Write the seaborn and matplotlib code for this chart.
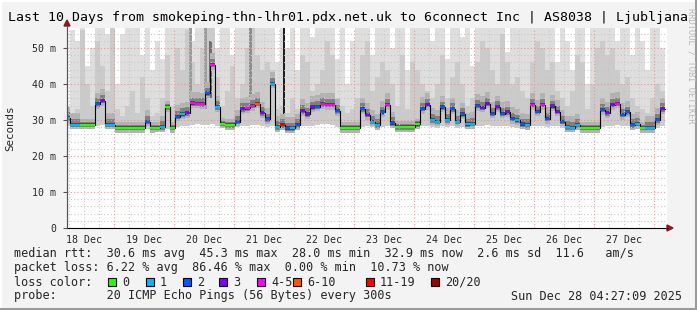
import matplotlib
matplotlib.use("Agg")
import matplotlib.pyplot as plt
import seaborn as sns
import numpy as np
import pandas as pd
from matplotlib.patches import Rectangle, Polygon

# ---------------- data ----------------
bin_start_hour = 4.4          # hours after 18 Dec 00:00 of first bin
bin_hours = 2.0
view_start, view_end = 5.2, 245.2

median_ms = [30.5, 28.7, 28.7, 28.7, 28.7, 28.7, 34.4, 35.3, 28.7, 28.7,
             27.8, 27.8, 27.8, 27.8, 27.8, 27.8, 29.5, 27.8, 27.9, 28.0,
             33.6, 27.8, 30.9, 31.6, 31.9, 34.6, 34.5, 34.4, 37.4, 45.3,
             33.6, 29.0, 28.6, 28.6, 29.5, 33.0, 33.2, 33.9, 34.5, 31.9,
             30.2, 40.1, 28.0, 28.6, 27.7, 27.7, 28.6, 32.5, 31.6, 33.5,
             33.7, 34.4, 34.2, 34.2, 32.5, 27.8, 27.8, 27.8, 27.8, 33.0,
             31.4, 29.5, 28.6, 32.1, 34.2, 29.1, 28.0, 28.0, 28.0, 28.0,
             28.8, 33.1, 34.2, 30.0, 29.5, 33.5, 30.0, 33.0, 29.5, 31.6,
             28.8, 28.9, 33.9, 33.4, 34.5, 31.8, 33.6, 31.8, 32.1, 30.3,
             29.9, 28.8, 28.6, 34.2, 32.3, 34.2, 30.3, 33.8, 32.3, 29.5,
             28.0, 27.9, 28.6, 27.8, 27.8, 27.8, 27.8, 32.8, 31.9, 34.2,
             34.5, 31.4, 32.1, 28.6, 28.9, 27.8, 27.8, 27.8, 30.0, 33.0]

loss_pings = [1, 1, 1, 0, 0, 0, 2, 3, 1, 1,
              0, 0, 0, 0, 0, 0, 2, 0, 0, 1,
              0, 0, 2, 1, 3, 4, 4, 4, 2, 4,
              1, 0, 0, 0, 2, 3, 4, 4, 6, 3,
              2, 1, 1, 12, 2, 1, 2, 3, 3, 3,
              2, 4, 4, 4, 2, 0, 0, 0, 0, 2,
              3, 1, 1, 2, 4, 2, 0, 0, 0, 0,
              0, 2, 3, 1, 1, 2, 1, 2, 1, 2,
              1, 1, 2, 3, 3, 2, 3, 2, 3, 2,
              1, 2, 1, 4, 2, 4, 2, 3, 3, 2,
              1, 1, 1, 0, 0, 0, 0, 2, 3, 3,
              4, 2, 2, 2, 1, 0, 1, 1, 2, 3]

smoke_min = [28.2, 28.0, 28.0, 28.0, 28.0, 28.0, 28.2, 28.5, 28.0, 28.0,
             27.3, 27.3, 27.3, 27.3, 27.4, 27.3, 27.5, 27.3, 27.3, 27.4,
             27.6, 27.3, 28.0, 28.2, 28.4, 28.6, 28.8, 28.6, 28.6, 29.0,
             28.4, 28.0, 27.8, 27.8, 28.0, 28.2, 28.4, 28.6, 28.6, 28.4,
             28.0, 28.2, 27.3, 27.5, 27.2, 27.2, 27.6, 28.2, 28.2, 28.4,
             28.6, 28.8, 28.8, 28.6, 28.0, 27.3, 27.3, 27.3, 27.3, 28.0,
             28.2, 28.0, 27.8, 28.0, 28.4, 27.8, 27.4, 27.4, 27.4, 27.4,
             27.6, 28.2, 28.4, 28.0, 27.8, 28.2, 28.0, 28.2, 27.8, 28.0,
             27.8, 27.8, 28.2, 28.4, 28.6, 28.2, 28.4, 28.2, 28.2, 28.0,
             27.8, 27.8, 27.8, 28.4, 28.2, 28.4, 28.0, 28.4, 28.2, 27.8,
             27.4, 27.3, 27.6, 27.3, 27.3, 27.3, 27.3, 28.0, 28.2, 28.4,
             28.6, 28.2, 28.2, 27.8, 27.6, 27.3, 27.3, 27.3, 27.8, 28.2]

smoke_mid = [33, 32, 33, 55, 40, 34, 52, 45, 38, 56,
             33, 31, 34, 38, 32, 42, 36, 31, 32, 36,
             48, 34, 50, 44, 55, 46, 40, 50, 56, 56,
             42, 34, 38, 45, 36, 40, 50, 56, 48, 44,
             46, 44, 33, 34, 32, 36, 33, 48, 46, 38,
             40, 44, 52, 48, 36, 34, 32, 33, 36, 48,
             52, 38, 42, 46, 44, 40, 34, 48, 33, 46,
             44, 40, 38, 36, 40, 48, 36, 42, 46, 40,
             34, 36, 46, 52, 50, 44, 40, 54, 46, 40,
             42, 38, 36, 46, 52, 50, 44, 46, 38, 36,
             34, 38, 48, 46, 33, 40, 50, 52, 48, 50,
             44, 40, 42, 36, 34, 33, 32, 36, 40, 38]

smoke_max = [34, 55, 52, 56, 45, 50, 56, 56, 54, 56,
             40, 54, 56, 56, 56, 48, 56, 44, 52, 47,
             56, 56, 56, 56, 56, 52, 56, 56, 56, 56,
             50, 56, 56, 48, 56, 56, 56, 56, 56, 56,
             56, 56, 46, 56, 50, 56, 44, 56, 56, 53,
             56, 56, 56, 56, 47, 56, 40, 52, 56, 56,
             56, 48, 56, 56, 56, 50, 56, 56, 44, 56,
             56, 56, 56, 52, 56, 56, 47, 56, 56, 53,
             56, 45, 56, 56, 56, 56, 56, 56, 49, 56,
             56, 56, 56, 56, 56, 56, 56, 56, 46, 56,
             52, 44, 56, 56, 40, 56, 56, 56, 56, 56,
             52, 56, 56, 48, 56, 52, 44, 56, 56, 50]

# extra dark smoke streaks: time (h after 18 Dec 00:00), low, high, grey level
streak_time = [54.0, 60.0, 62.0, 78.0, 91.4]
streak_low = [34.0, 33.0, 36.0, 33.0, 28.6]
streak_high = [56.0, 56.0, 52.0, 56.0, 56.0]
streak_grey = ["#9a9a9a", "#9c9c9c", "#6e6e6e", "#8c8c8c", "#1e1e1e"]

day_labels = ["18 Dec", "19 Dec", "20 Dec", "21 Dec", "22 Dec",
              "23 Dec", "24 Dec", "25 Dec", "26 Dec", "27 Dec"]
ytick_values = [0, 10, 20, 30, 40, 50]
ytick_labels = ["0", "10 m", "20 m", "30 m", "40 m", "50 m"]

loss_thresholds = [0, 1, 2, 3, 4, 6, 11, 20]
loss_colors = ["#26ff00", "#00b8ff", "#0059ff", "#7e00ff",
               "#ff00ff", "#ff5500", "#ff0000", "#a10000"]
loss_labels = ["0", "1", "2", "3", "4-5", "6-10", "11-19", "20/20"]

title = "Last 10 Days from smokeping-thn-lhr01.pdx.net.uk to 6connect Inc | AS8038 | Ljubljana"
stat_lines = [
    "median rtt:  30.6 ms avg  45.3 ms max  28.0 ms min  32.9 ms now  2.6 ms sd  11.6   am/s",
    "packet loss: 6.22 % avg  86.46 % max  0.00 % min  10.73 % now",
]
probe_text = "probe:       20 ICMP Echo Pings (56 Bytes) every 300s"
stamp_text = "Sun Dec 28 04:27:09 2025"

# ---------------- figure ----------------
sns.set_theme(style="white")
plt.rcParams["font.family"] = ["DejaVu Sans Mono", "DejaVu Sans"]
W, H = 697, 310
BG = "#f3f3f3"
fig = plt.figure(figsize=(W / 100, H / 100), dpi=100, facecolor=BG)

def fx(px):
    return px / W

def fy(py):
    return 1 - py / H

ax_l, ax_r, ax_t, ax_b = 67, 667, 28, 228
ax = fig.add_axes([fx(ax_l), fy(ax_b), (ax_r - ax_l) / W, (ax_b - ax_t) / H])
ax.set_facecolor("white")
ymax = (ax_b - ax_t) / 3.6
ax.set_xlim(view_start, view_end)
ax.set_ylim(0, ymax)

n = len(median_ms)
df = pd.DataFrame({
    "left": [bin_start_hour + bin_hours * i for i in range(n)],
    "median": median_ms, "loss": loss_pings,
    "smin": smoke_min, "smid": smoke_mid, "smax": smoke_max,
})
df["smid"] = np.minimum(df["smid"], df["smax"])
busy = df["loss"] > 0
spread_up = np.where(busy, 3.2, 1.6)

# smoke layers
ax.bar(df["left"], df["smax"] - df["smin"], bottom=df["smin"], width=bin_hours,
       align="edge", color="#dedede", linewidth=0, zorder=1)
ax.bar(df["left"], df["smid"] - df["smin"], bottom=df["smin"], width=bin_hours,
       align="edge", color="#cbcbcb", linewidth=0, zorder=1.1)
for t, lo, hi, g in zip(streak_time, streak_low, streak_high, streak_grey):
    ax.bar([t], [hi - lo], bottom=[lo], width=1.0, align="edge", color=g,
           linewidth=0, zorder=1.2)
ax.bar(df["left"], spread_up + 1.3, bottom=df["median"] - 1.3, width=bin_hours,
       align="edge", color="#b2b2b2", linewidth=0, zorder=1.3)
ax.bar(df["left"], spread_up * 0.5 + 0.7, bottom=df["median"] - 0.7, width=bin_hours,
       align="edge", color="#808080", linewidth=0, zorder=1.4)
ax.bar(df["left"], 0.9, bottom=df["median"] - 0.35, width=bin_hours,
       align="edge", color="#454545", linewidth=0, zorder=1.5)

# grid (drawn over smoke)
dot = (0, (1, 2))
for v in np.arange(2, ymax, 2):
    if v % 10 != 0:
        ax.axhline(v, color="#c8c8c8", lw=0.8, ls=dot, zorder=3)
for v in ytick_values[1:]:
    ax.axhline(v, color="#ff8c8c", lw=0.8, ls=dot, zorder=3.1)
for h in np.arange(6, view_end, 6):
    if h % 24 != 0:
        ax.axvline(h, color="#c8c8c8", lw=0.8, ls=dot, zorder=3)
for h in np.arange(24, view_end, 24):
    ax.axvline(h, color="#ff8c8c", lw=0.8, ls=dot, zorder=3.1)

# median line (black steps) + loss coloured caps
edges = list(df["left"]) + [bin_start_hour + bin_hours * n]
step_df = pd.DataFrame({"t": edges, "ms": median_ms + [median_ms[-1]]})
sns.lineplot(data=step_df, x="t", y="ms", drawstyle="steps-post", color="black",
             linewidth=0.8, estimator=None, ax=ax, zorder=5)

def loss_color(v):
    c = loss_colors[0]
    for th, col in zip(loss_thresholds, loss_colors):
        if v >= th:
            c = col
    return c

ax.hlines(df["median"], df["left"], df["left"] + bin_hours,
          colors=[loss_color(v) for v in df["loss"]], linewidth=1.6, zorder=6)

# axes / ticks
for s in ["top", "right"]:
    ax.spines[s].set_visible(False)
ax.spines["left"].set_color("#555555")
ax.spines["bottom"].set_color("black")
ax.spines["left"].set_linewidth(0.8)
ax.spines["bottom"].set_linewidth(0.8)
ax.set_yticks(ytick_values)
ax.set_yticklabels(ytick_labels, fontsize=7.1)
ax.set_xticks([12 + 24 * k for k in range(len(day_labels))])
ax.set_xticklabels(day_labels, fontsize=7.1)
ax.tick_params(axis="y", length=3, width=0.8, color="#555555", pad=5, left=True)
ax.tick_params(axis="x", length=0, pad=5)
ax.set_xlabel("")
ax.set_ylabel("")
ax.grid(False)

# arrows
fig.patches.append(Polygon([[fx(64), fy(26)], [fx(70), fy(26)], [fx(67), fy(20)]],
                           closed=True, transform=fig.transFigure, color="#8b1a1a"))
fig.lines.append(plt.Line2D([fx(67), fx(67)], [fy(228), fy(26)], transform=fig.transFigure,
                            color="#555555", lw=0.8))
fig.patches.append(Polygon([[fx(667), fy(225)], [fx(667), fy(231)], [fx(673), fy(228)]],
                           closed=True, transform=fig.transFigure, color="#8b1a1a"))
fig.lines.append(plt.Line2D([fx(667), fx(668)], [fy(228), fy(228)], transform=fig.transFigure,
                            color="black", lw=0.8))

# texts
fig.text(fx(7.5), fy(18), title, fontsize=9.5, va="center", ha="left", color="black")
fig.text(fx(10), fy(128), "Seconds", fontsize=7.8, rotation=90, va="center", ha="center")
fig.text(fx(691), fy(8), "RRDTOOL / TOBI OETIKER", fontsize=6.2, rotation=270,
         va="top", ha="center", color="#b8b8b8")

leg_fs = 8.5
fig.text(fx(14), fy(254), stat_lines[0], fontsize=leg_fs, va="center", ha="left")
fig.text(fx(14), fy(268), stat_lines[1], fontsize=leg_fs, va="center", ha="left")
fig.text(fx(14), fy(282), "loss color:", fontsize=leg_fs, va="center", ha="left")
box_x = [108, 146, 183, 219, 257, 293, 366, 431]
for bx, col, lab in zip(box_x, loss_colors, loss_labels):
    fig.patches.append(Rectangle((fx(bx), fy(286)), 8 / W, 8 / H, transform=fig.transFigure,
                                 facecolor=col, edgecolor="black", linewidth=0.8))
    fig.text(fx(bx + 14), fy(282), lab, fontsize=leg_fs, va="center", ha="left")
fig.text(fx(14), fy(296), probe_text, fontsize=leg_fs, va="center", ha="left")
fig.text(fx(682), fy(296), stamp_text, fontsize=leg_fs, va="center", ha="right")

# frame
fig.lines.append(plt.Line2D([0, 1], [fy(1), fy(1)], transform=fig.transFigure, color="white", lw=1.5))
fig.lines.append(plt.Line2D([fx(1), fx(1)], [0, 1], transform=fig.transFigure, color="white", lw=1.5))
fig.lines.append(plt.Line2D([0, 1], [fy(308.5), fy(308.5)], transform=fig.transFigure, color="#9a9a9a", lw=2.2))
fig.lines.append(plt.Line2D([fx(695.5), fx(695.5)], [0, 1], transform=fig.transFigure, color="#9a9a9a", lw=2.2))

fig.savefig("out.png", dpi=100, facecolor=BG)
